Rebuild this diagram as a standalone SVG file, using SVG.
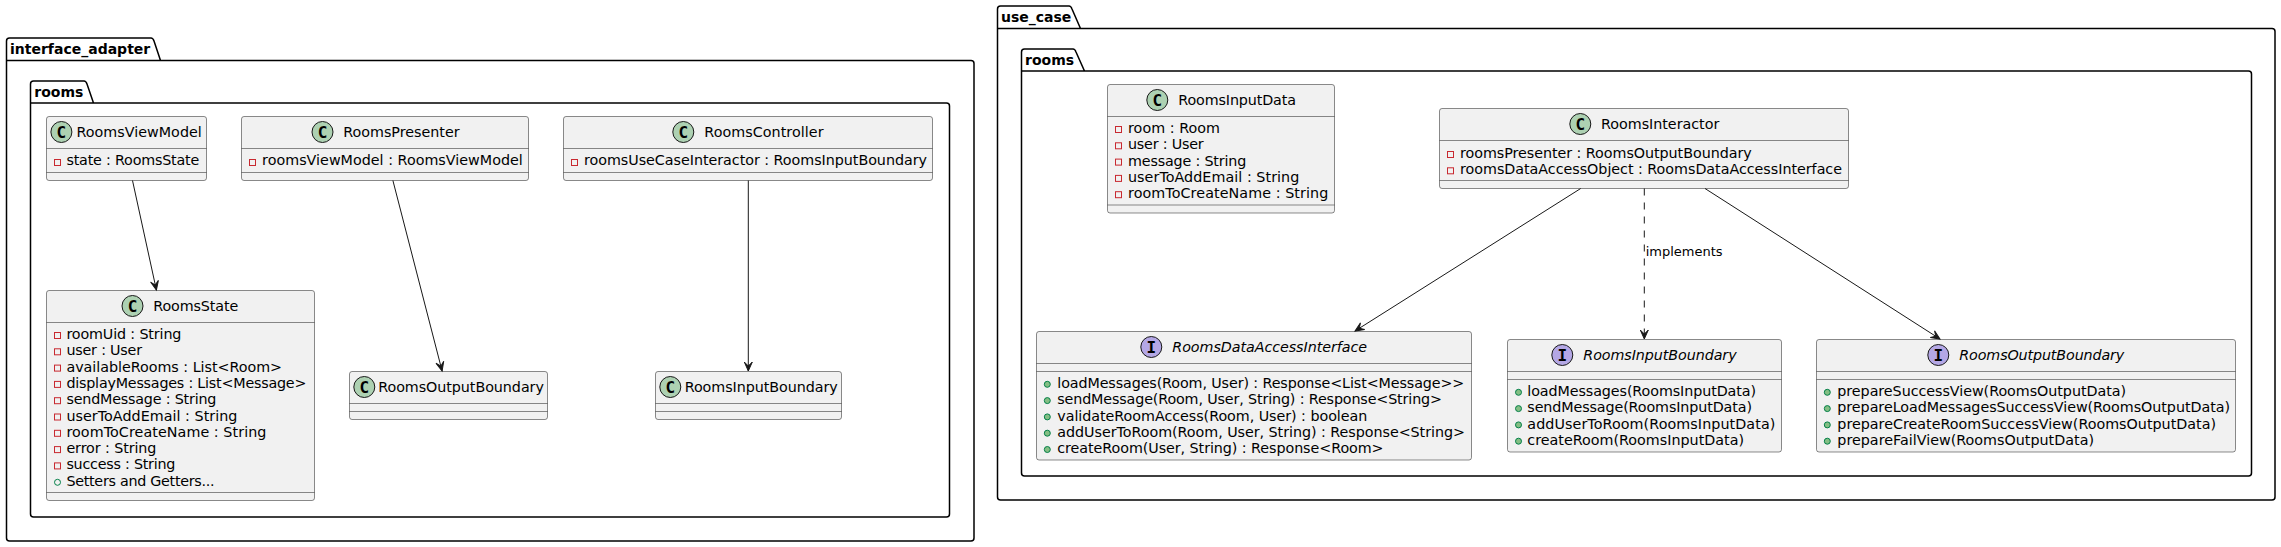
<svg xmlns="http://www.w3.org/2000/svg" width="2281" height="547" viewBox="0 0 2281 547">
<style>
text{font-family:"DejaVu Sans",sans-serif;font-size:14.3px;fill:#000}
.pk{fill:none;stroke:#000;stroke-width:1.5}
text.pt{font-weight:bold;font-size:14px}
.box{fill:#F1F1F1;stroke:#181818;stroke-width:.5}
.sep{stroke:#181818;stroke-width:.5;fill:none}
.ci{stroke:#181818;stroke-width:1}
.c{fill:#ADD1B2}.i{fill:#B4A7E5}
text.let{font-family:"DejaVu Sans Mono",monospace;font-weight:bold;font-size:16px;text-anchor:middle}
.it{font-style:italic}
.pv{fill:none;stroke:#C82930;stroke-width:1}
.pf{fill:none;stroke:#038048;stroke-width:1}
.pm{fill:#84BE84;stroke:#038048;stroke-width:1}
.e{fill:none;stroke:#181818;stroke-width:1;marker-end:url(#ah)}
text.lb{font-size:13px}
</style>
<defs>
<marker id="ah" markerUnits="userSpaceOnUse" markerWidth="12" markerHeight="10" refX="10" refY="5" orient="auto"><path d="M1,1 L10,5 L1,9 L5,5 Z" fill="#181818" stroke="#181818" stroke-width="1"/></marker>
</defs>
<g id="pkg-interface_adapter"><path class="pk" d="M6.5,60.5 V41 Q6.5,38 9.5,38 H151 Q153,38 154,41 L160.5,60.5 H971 Q974,60.5 974,63.5 V538 Q974,541 971,541 H9.5 Q6.5,541 6.5,538 Z M6.5,60.5 H160.5"/><text class="pt" x="10" y="53.5">interface_adapter</text></g>
<g id="pkg-interface_adapter-rooms"><path class="pk" d="M30.5,103 V84 Q30.5,81 33.5,81 H84 Q86,81 87,84 L93.5,103 H946.5 Q949.5,103 949.5,106 V514 Q949.5,517 946.5,517 H33.5 Q30.5,517 30.5,514 Z M30.5,103 H93.5"/><text class="pt" x="34.3" y="96.5">rooms</text></g>
<g id="pkg-use_case"><path class="pk" d="M997.5,28.5 V9 Q997.5,6 1000.5,6 H1069 Q1071,6 1072,9 L1080.5,28.5 H2272 Q2275,28.5 2275,31.5 V497 Q2275,500 2272,500 H1000.5 Q997.5,500 997.5,497 Z M997.5,28.5 H1080.5"/><text class="pt" x="1001" y="21.5">use_case</text></g>
<g id="pkg-use_case-rooms"><path class="pk" d="M1021.5,71 V52 Q1021.5,49 1024.5,49 H1073 Q1075,49 1076,52 L1084.5,71 H2248.5 Q2251.5,71 2251.5,74 V473 Q2251.5,476 2248.5,476 H1024.5 Q1021.5,476 1021.5,473 Z M1021.5,71 H1084.5"/><text class="pt" x="1025" y="64.5">rooms</text></g>

<g id="RoomsViewModel"><rect class="box" x="46.5" y="116.5" width="160" height="64" rx="2.5"/><path class="sep" d="M46.5,148.5 H206.5 M46.5,172.5 H206.5"/><circle class="ci c" cx="61.4" cy="132" r="10.5"/><text class="let" x="61.4" y="137.8">C</text><text x="76.4" y="137" textLength="125.4">RoomsViewModel</text><rect class="pv" x="54.5" y="159.5" width="6" height="6"/><text x="66.4" y="165" textLength="132.9">state : RoomsState</text></g>

<g id="RoomsPresenter"><rect class="box" x="241.5" y="116.5" width="287" height="64" rx="2.5"/><path class="sep" d="M241.5,148.5 H528.5 M241.5,172.5 H528.5"/><circle class="ci c" cx="322.5" cy="132" r="10.5"/><text class="let" x="322.5" y="137.8">C</text><text x="343.2" y="137" textLength="116.4">RoomsPresenter</text><rect class="pv" x="249.5" y="159.5" width="6" height="6"/><text x="262.1" y="165" textLength="260.7">roomsViewModel : RoomsViewModel</text></g>

<g id="RoomsController"><rect class="box" x="563.5" y="116.5" width="369" height="64" rx="2.5"/><path class="sep" d="M563.5,148.5 H932.5 M563.5,172.5 H932.5"/><circle class="ci c" cx="683.3" cy="132" r="10.5"/><text class="let" x="683.3" y="137.8">C</text><text x="704.3" y="137" textLength="119.3">RoomsController</text><rect class="pv" x="571.5" y="159.5" width="6" height="6"/><text x="584" y="165" textLength="343">roomsUseCaseInteractor : RoomsInputBoundary</text></g>

<g id="RoomsState"><rect class="box" x="46.5" y="290.5" width="268" height="210" rx="2.5"/><path class="sep" d="M46.5,322.5 H314.5 M46.5,492.5 H314.5"/><circle class="ci c" cx="132.5" cy="306" r="10.5"/><text class="let" x="132.5" y="311.8">C</text><text x="153.2" y="311" textLength="85">RoomsState</text>
<rect class="pv" x="54.5" y="332.5" width="6" height="6"/><text x="66.4" y="339" textLength="115">roomUid : String</text>
<rect class="pv" x="54.5" y="348.8" width="6" height="6"/><text x="66.4" y="355.3" textLength="75.7">user : User</text>
<rect class="pv" x="54.5" y="365.1" width="6" height="6"/><text x="66.4" y="371.6" textLength="215.7">availableRooms : List&lt;Room&gt;</text>
<rect class="pv" x="54.5" y="381.4" width="6" height="6"/><text x="66.4" y="387.9" textLength="240">displayMessages : List&lt;Message&gt;</text>
<rect class="pv" x="54.5" y="397.7" width="6" height="6"/><text x="66.4" y="404.2" textLength="150">sendMessage : String</text>
<rect class="pv" x="54.5" y="414" width="6" height="6"/><text x="66.4" y="420.5" textLength="171">userToAddEmail : String</text>
<rect class="pv" x="54.5" y="430.3" width="6" height="6"/><text x="66.4" y="436.8" textLength="200">roomToCreateName : String</text>
<rect class="pv" x="54.5" y="446.6" width="6" height="6"/><text x="66.4" y="453.1" textLength="90">error : String</text>
<rect class="pv" x="54.5" y="462.9" width="6" height="6"/><text x="66.4" y="469.4" textLength="109">success : String</text>
<circle class="pf" cx="57.5" cy="482.3" r="3"/><text x="66.4" y="485.7" textLength="148.2">Setters and Getters...</text></g>

<g id="RoomsOutputBoundary-ref"><rect class="box" x="349.5" y="371.5" width="198" height="48" rx="2.5"/><path class="sep" d="M349.5,403.5 H547.5 M349.5,411.5 H547.5"/><circle class="ci c" cx="364.3" cy="387" r="10.5"/><text class="let" x="364.3" y="392.8">C</text><text x="378.2" y="392" textLength="165.7">RoomsOutputBoundary</text></g>

<g id="RoomsInputBoundary-ref"><rect class="box" x="655.5" y="371.5" width="186" height="48" rx="2.5"/><path class="sep" d="M655.5,403.5 H841.5 M655.5,411.5 H841.5"/><circle class="ci c" cx="670.3" cy="387" r="10.5"/><text class="let" x="670.3" y="392.8">C</text><text x="684.7" y="392" textLength="153">RoomsInputBoundary</text></g>

<g id="RoomsInputData"><rect class="box" x="1107.5" y="84.5" width="227" height="128.5" rx="2.5"/><path class="sep" d="M1107.5,116.5 H1334.5 M1107.5,205 H1334.5"/><circle class="ci c" cx="1157.3" cy="100" r="10.5"/><text class="let" x="1157.3" y="105.8">C</text><text x="1178.3" y="105" textLength="117.7">RoomsInputData</text>
<rect class="pv" x="1115.5" y="126.5" width="6" height="6"/><text x="1128" y="133" textLength="92">room : Room</text>
<rect class="pv" x="1115.5" y="142.8" width="6" height="6"/><text x="1128" y="149.3" textLength="75.7">user : User</text>
<rect class="pv" x="1115.5" y="159.1" width="6" height="6"/><text x="1128" y="165.6" textLength="118.3">message : String</text>
<rect class="pv" x="1115.5" y="175.4" width="6" height="6"/><text x="1128" y="181.9" textLength="171.3">userToAddEmail : String</text>
<rect class="pv" x="1115.5" y="191.7" width="6" height="6"/><text x="1128" y="198.2" textLength="200.3">roomToCreateName : String</text></g>

<g id="RoomsInteractor"><rect class="box" x="1439.5" y="108.5" width="409" height="80" rx="2.5"/><path class="sep" d="M1439.5,140.5 H1848.5 M1439.5,180.5 H1848.5"/><circle class="ci c" cx="1580.3" cy="124" r="10.5"/><text class="let" x="1580.3" y="129.8">C</text><text x="1601" y="129" textLength="118.3">RoomsInteractor</text>
<rect class="pv" x="1447.5" y="151.5" width="6" height="6"/><text x="1460" y="158" textLength="291.7">roomsPresenter : RoomsOutputBoundary</text>
<rect class="pv" x="1447.5" y="167.8" width="6" height="6"/><text x="1460" y="174.3" textLength="382">roomsDataAccessObject : RoomsDataAccessInterface</text></g>

<g id="RoomsDataAccessInterface"><rect class="box" x="1036.5" y="331.5" width="435" height="128.5" rx="2.5"/><path class="sep" d="M1036.5,363.5 H1471.5 M1036.5,371.5 H1471.5"/><circle class="ci i" cx="1151.3" cy="347" r="10.5"/><text class="let" x="1151.3" y="352.8">I</text><text class="it" x="1172.3" y="352" textLength="194.7">RoomsDataAccessInterface</text>
<circle class="pm" cx="1047.3" cy="384.3" r="3"/><text x="1057.3" y="388" textLength="407">loadMessages(Room, User) : Response&lt;List&lt;Message&gt;&gt;</text>
<circle class="pm" cx="1047.3" cy="400.6" r="3"/><text x="1057.3" y="404.3" textLength="384.7">sendMessage(Room, User, String) : Response&lt;String&gt;</text>
<circle class="pm" cx="1047.3" cy="416.9" r="3"/><text x="1057.3" y="420.6" textLength="310">validateRoomAccess(Room, User) : boolean</text>
<circle class="pm" cx="1047.3" cy="433.2" r="3"/><text x="1057.3" y="436.9" textLength="407.7">addUserToRoom(Room, User, String) : Response&lt;String&gt;</text>
<circle class="pm" cx="1047.3" cy="449.5" r="3"/><text x="1057.3" y="453.2" textLength="326.3">createRoom(User, String) : Response&lt;Room&gt;</text></g>

<g id="RoomsInputBoundary"><rect class="box" x="1507.5" y="339.5" width="274" height="112.5" rx="2.5"/><path class="sep" d="M1507.5,371.5 H1781.5 M1507.5,379.5 H1781.5"/><circle class="ci i" cx="1562.3" cy="355" r="10.5"/><text class="let" x="1562.3" y="360.8">I</text><text class="it" x="1583.3" y="360" textLength="153.3">RoomsInputBoundary</text>
<circle class="pm" cx="1518.5" cy="392.3" r="3"/><text x="1527.3" y="396" textLength="228.7">loadMessages(RoomsInputData)</text>
<circle class="pm" cx="1518.5" cy="408.6" r="3"/><text x="1527.3" y="412.3" textLength="224.7">sendMessage(RoomsInputData)</text>
<circle class="pm" cx="1518.5" cy="424.9" r="3"/><text x="1527.3" y="428.6" textLength="248">addUserToRoom(RoomsInputData)</text>
<circle class="pm" cx="1518.5" cy="441.2" r="3"/><text x="1527.3" y="444.9" textLength="216.7">createRoom(RoomsInputData)</text></g>

<g id="RoomsOutputBoundary"><rect class="box" x="1816.5" y="339.5" width="419" height="112.5" rx="2.5"/><path class="sep" d="M1816.5,371.5 H2235.5 M1816.5,379.5 H2235.5"/><circle class="ci i" cx="1938.3" cy="355" r="10.5"/><text class="let" x="1938.3" y="360.8">I</text><text class="it" x="1959.3" y="360" textLength="165">RoomsOutputBoundary</text>
<circle class="pm" cx="1827.3" cy="392.3" r="3"/><text x="1837.3" y="396" textLength="288.7">prepareSuccessView(RoomsOutputData)</text>
<circle class="pm" cx="1827.3" cy="408.6" r="3"/><text x="1837.3" y="412.3" textLength="392.7">prepareLoadMessagesSuccessView(RoomsOutputData)</text>
<circle class="pm" cx="1827.3" cy="424.9" r="3"/><text x="1837.3" y="428.6" textLength="378.7">prepareCreateRoomSuccessView(RoomsOutputData)</text>
<circle class="pm" cx="1827.3" cy="441.2" r="3"/><text x="1837.3" y="444.9" textLength="256.7">prepareFailView(RoomsOutputData)</text></g>

<g id="connectors">
<path class="e" d="M132.5,180.5 L156.4,290"/>
<path class="e" d="M392.9,180.5 L442.1,371"/>
<path class="e" d="M748.3,180.5 V371"/>
<path class="e" d="M1580.7,188.5 L1355,331"/>
<path class="e" d="M1644.3,188.5 V339" stroke-dasharray="7 7"/>
<path class="e" d="M1705,188.5 L1940,339"/>
<text class="lb" x="1645.7" y="256">implements</text>
</g>
</svg>
